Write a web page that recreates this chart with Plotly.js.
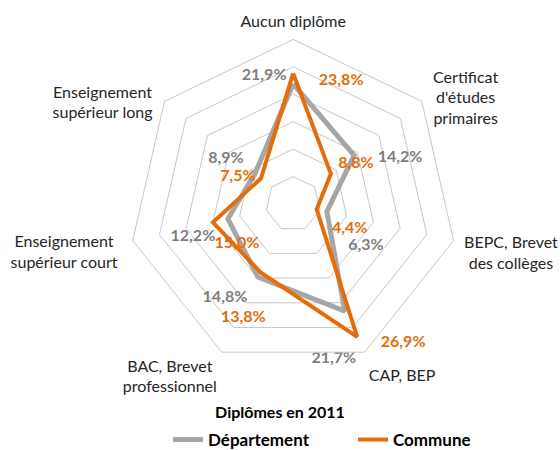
<!DOCTYPE html>
<html>
<head>
<meta charset="utf-8">
<script src="https://cdn.plot.ly/plotly-3.0.1.min.js"></script>
<style>
	html, body { margin: 0; padding: 0; background: white; }
	#radar { width: 560px; height: 450px; }
</style>
</head>
<body>
<div id="radar"></div>
<script>
	// Categories (clockwise from the top)
	var categories = [
		"Aucun diplôme",
		"Certificat<br>d'études<br>primaires",
		"BEPC, Brevet<br>des collèges",
		"CAP, BEP",
		"BAC, Brevet<br>professionnel",
		"Enseignement<br>supérieur court",
		"Enseignement<br>supérieur long"
	];
	// Values in %
	var departement = [21.9, 14.2, 6.3, 21.7, 14.8, 12.2, 8.9];
	var commune = [23.8, 8.8, 4.4, 26.9, 13.8, 15.0, 7.5];

	// pixel offset of each data label from its point
	var depLabelShift = [[-29, -8], [46, 3], [39, 34], [-11, 48], [-33, 21], [-35, 18], [-29, -15]];
	var comLabelShift = [[48, 8], [25, -10], [33, 20], [46, 6], [-17, 46], [24, 22], [-23, -1]];
	// nudges for the category labels (after centring them)
	var catLabelShift = [[0, 2], [2, 20], [-1, 4], [-1, 1], [0, -7], [-4, 3], [-3, 18]];

	var grey = "#A6A6A6";
	var orange = "#E46C0A";
	var font = "Lato, 'Open Sans', sans-serif";

	function closeLoop(arr) {
		return arr.concat([arr[0]]);
	}
	function labels(arr) {
		// French decimal comma, nothing on the closing point
		return arr.map(function (v) { return v.toFixed(1).replace(".", ",") + "%"; }).concat([""]);
	}

	var traces = [
		{
			type: "scatterpolar",
			name: "Département",
			r: closeLoop(departement),
			theta: closeLoop(categories),
			mode: "lines+text",
			line: { color: grey, width: 5 },
			text: labels(departement),
			textposition: "middle center",
			textfont: { family: font, size: 16, color: "#7F7F7F", weight: "bold" },
			cliponaxis: false
		},
		{
			type: "scatterpolar",
			name: "Commune",
			r: closeLoop(commune),
			theta: closeLoop(categories),
			mode: "lines+text",
			line: { color: orange, width: 4 },
			text: labels(commune),
			textposition: "middle center",
			textfont: { family: font, size: 16, color: orange, weight: "bold" },
			cliponaxis: false
		}
	];

	var layout = {
		width: 560,
		height: 450,
		margin: { l: 0, r: 0, t: 0, b: 0 },
		paper_bgcolor: "white",
		font: { family: font, size: 16, color: "#262626" },
		title: {
			text: "Diplômes en 2011",
			font: { family: font, size: 16, color: "#000000", weight: "bold" },
			x: 0.5, xanchor: "center",
			y: 0.083, yanchor: "middle"
		},
		showlegend: true,
		legend: {
			orientation: "h",
			x: 0.3, xanchor: "left",
			y: 0.002, yanchor: "middle",
			font: { family: font, size: 17, color: "#000000", weight: "bold" },
			itemwidth: 30,
			entrywidth: 140,
			tracegroupgap: 0
		},
		polar: {
			domain: { x: [0.218, 0.829], y: [0.149, 0.909] },
			gridshape: "linear",
			bgcolor: "white",
			radialaxis: {
				range: [0, 30],
				dtick: 5,
				showticklabels: false,
				ticks: "",
				showline: false,
				gridcolor: "#C8C8C8",
				gridwidth: 1
			},
			angularaxis: {
				rotation: 90,
				direction: "clockwise",
				showgrid: false,
				showline: true,
				linecolor: "#C8C8C8",
				linewidth: 1,
				ticks: "outside",
				ticklen: 8,
				tickcolor: "rgba(0,0,0,0)",
				tickfont: { family: font, size: 16, color: "#262626" }
			}
		}
	};

	function shift(el, dx, dy) {
		var old = el.getAttribute("transform") || "";
		el.setAttribute("transform", "translate(" + dx + "," + dy + ") " + old);
	}

	var gd = document.getElementById("radar");
	Plotly.newPlot(gd, traces, layout, { displayModeBar: false, staticPlot: true }).then(function () {
		// move the data labels to where Excel put them
		var groups = gd.querySelectorAll(".polarlayer .scatterlayer .trace");
		var shifts = [depLabelShift, comLabelShift];
		for (var t = 0; t < groups.length && t < shifts.length; t++) {
			var pts = groups[t].querySelectorAll("g.textpoint");
			for (var i = 0; i < pts.length && i < shifts[t].length; i++) {
				shift(pts[i], shifts[t][i][0], shifts[t][i][1]);
			}
		}

		// centre the category labels line by line, like Excel
		var plain = categories.map(function (c) { return c.replace(/<br>/g, ""); });
		var texts = gd.querySelectorAll(".polarlayer text");
		texts.forEach(function (el) {
			var k = plain.indexOf(el.textContent);
			if (k < 0) return;
			var box = el.getBBox();
			var x0 = parseFloat(el.getAttribute("x")) || 0;
			el.setAttribute("text-anchor", "middle");
			el.querySelectorAll("tspan").forEach(function (ts) { ts.setAttribute("text-anchor", "middle"); });
			shift(el, box.x + box.width / 2 - x0 + catLabelShift[k][0], catLabelShift[k][1]);
		});

		// legend sits a bit lower than plotly lets it
		var leg = gd.querySelector(".legend");
		if (leg) shift(leg, 0, 8);
	});
</script>
</body>
</html>
